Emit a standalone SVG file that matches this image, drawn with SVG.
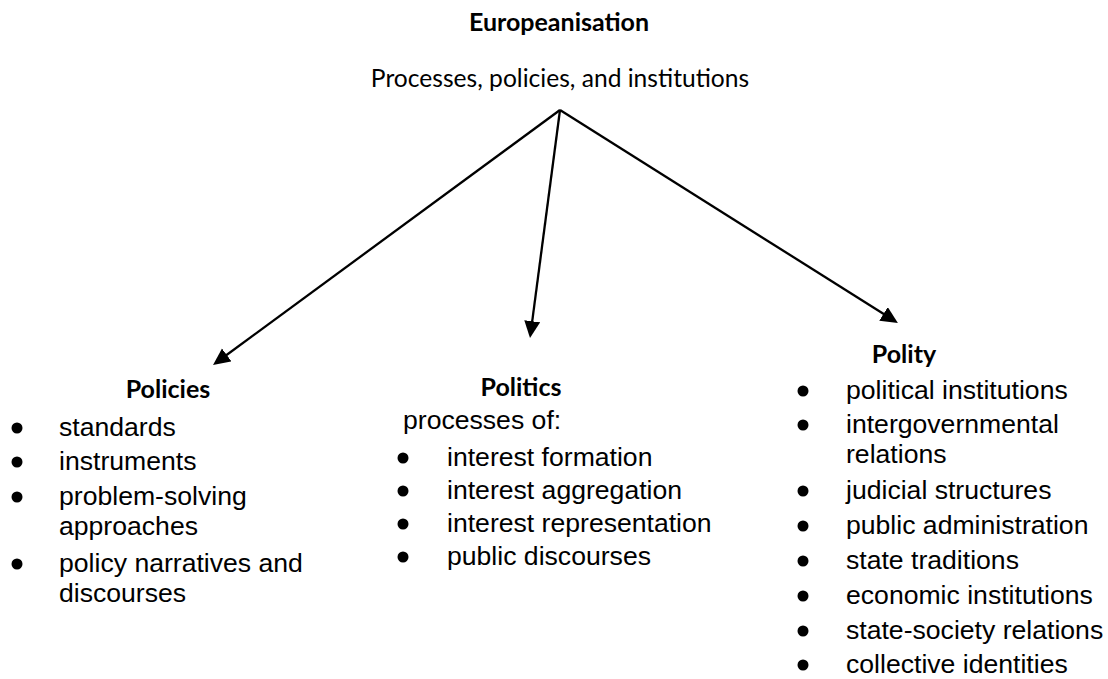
<svg xmlns="http://www.w3.org/2000/svg" width="1108" height="679" viewBox="0 0 1108 679">
<style>
.h{font-family:Lato,"Open Sans",sans-serif;font-size:25px;fill:#000;text-anchor:middle}
.s{font-size:24.6px}
.b{font-weight:bold}
.t{font-family:"Liberation Sans",Arial,sans-serif;font-size:26.6px;fill:#000}
.c{stroke:#000;stroke-width:2.3;fill:none}
</style>
<defs>
<marker id="ah" markerUnits="userSpaceOnUse" markerWidth="18" markerHeight="17" refX="4" refY="8" orient="auto">
<path d="M0,0 L17,8 L0,16 z" fill="#000"/>
</marker>
</defs>
<rect width="1108" height="679" fill="#fff"/>
<g id="root">
<text class="h b" x="559" y="31">Europeanisation</text>
<text class="h s" x="560" y="87">Processes, policies, and institutions</text>
</g>
<g id="connectors">
<path class="c" d="M560,110 L223.5,357.3" marker-end="url(#ah)"/>
<path class="c" d="M560,110 L531.7,325.2" marker-end="url(#ah)"/>
<path class="c" d="M560,110 L886.9,316" marker-end="url(#ah)"/>
</g>
<g id="policies">
<text class="h b" x="168" y="398">Policies</text>
<circle cx="17" cy="428" r="5.5"/>
<text class="t" x="59" y="436">standards</text>
<circle cx="17" cy="462" r="5.5"/>
<text class="t" x="59" y="470">instruments</text>
<circle cx="17" cy="497" r="5.5"/>
<text class="t" x="59" y="505">problem-solving</text>
<text class="t" x="59" y="535">approaches</text>
<circle cx="17" cy="564" r="5.5"/>
<text class="t" x="59" y="572">policy narratives and</text>
<text class="t" x="59" y="602">discourses</text>
</g>
<g id="politics">
<text class="h b" x="521" y="396">Politics</text>
<text class="t" x="403" y="429">processes of:</text>
<circle cx="403" cy="458" r="5.5"/>
<text class="t" x="447" y="466">interest formation</text>
<circle cx="403" cy="491" r="5.5"/>
<text class="t" x="447" y="499">interest aggregation</text>
<circle cx="403" cy="524" r="5.5"/>
<text class="t" x="447" y="532">interest representation</text>
<circle cx="403" cy="557" r="5.5"/>
<text class="t" x="447" y="565">public discourses</text>
</g>
<g id="polity">
<text class="h b" x="904" y="363">Polity</text>
<circle cx="803" cy="391" r="5.5"/>
<text class="t" x="846" y="399">political institutions</text>
<circle cx="803" cy="425" r="5.5"/>
<text class="t" x="846" y="433">intergovernmental</text>
<text class="t" x="846" y="463">relations</text>
<circle cx="803" cy="491" r="5.5"/>
<text class="t" x="846" y="499">judicial structures</text>
<circle cx="803" cy="526" r="5.5"/>
<text class="t" x="846" y="534">public administration</text>
<circle cx="803" cy="561" r="5.5"/>
<text class="t" x="846" y="569">state traditions</text>
<circle cx="803" cy="596" r="5.5"/>
<text class="t" x="846" y="604">economic institutions</text>
<circle cx="803" cy="631" r="5.5"/>
<text class="t" x="846" y="639">state-society relations</text>
<circle cx="803" cy="665" r="5.5"/>
<text class="t" x="846" y="673">collective identities</text>
</g>
</svg>
